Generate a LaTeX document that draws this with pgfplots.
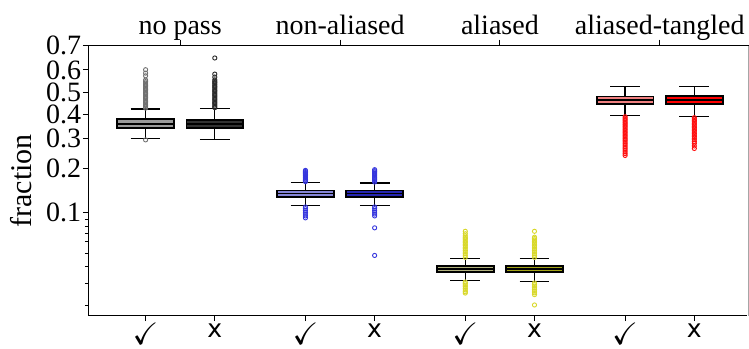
\documentclass[border=0pt]{standalone}
\usepackage{fontspec}
\setmainfont{Liberation Serif}
\newfontfamily\djv{DejaVu Sans}
\usepackage{amssymb}
\usepackage{pgfplots}
\pgfplotsset{compat=1.18}

\definecolor{boxA}{HTML}{9A9A9A}
\definecolor{boxB}{HTML}{323232}
\definecolor{boxC}{HTML}{8484D6}
\definecolor{boxD}{HTML}{2626B0}
\definecolor{boxE}{HTML}{B2B27E}
\definecolor{boxF}{HTML}{A4A418}
\definecolor{boxG}{HTML}{F08080}
\definecolor{boxH}{HTML}{FF0000}
\definecolor{outA}{HTML}{707070}
\definecolor{outB}{HTML}{2A2A2A}
\definecolor{outC}{HTML}{3535DD}
\definecolor{outE}{HTML}{D8D82A}
\definecolor{outG}{HTML}{FF1010}

\newcommand{\bigf}{\fontsize{28}{32}\selectfont}

\pgfplotsset{
  outl/.style={only marks, mark=o, mark size=2.1pt, mark options={draw=#1, line width=0.9pt}},
}
% box: position, lower whisker, lower quartile, median, upper quartile, upper whisker, fill
\newcommand{\bx}[7]{%
  \pgfmathsetmacro\bl{#1-0.41}\pgfmathsetmacro\br{#1+0.41}%
  \pgfmathsetmacro\wl{#1-0.215}\pgfmathsetmacro\wr{#1+0.215}%
  \addplot[black, line width=1.3pt] coordinates {(#1,#2) (#1,#3)};
  \addplot[black, line width=1.3pt] coordinates {(#1,#5) (#1,#6)};
  \addplot[black, line width=1.3pt] coordinates {(\wl,#2) (\wr,#2)};
  \addplot[black, line width=1.3pt] coordinates {(\wl,#6) (\wr,#6)};
  \addplot[draw=black, fill=#7, line width=1.7pt] coordinates {(\bl,#3) (\br,#3) (\br,#5) (\bl,#5)} -- cycle;
  \addplot[black, line width=1.6pt] coordinates {(\bl,#4) (\br,#4)};
}

\begin{document}
\begin{tikzpicture}
\begin{axis}[
  name=main,
  width=660pt, height=270pt, scale only axis,
  xmin=-0.828, xmax=8.71,
  ymin=0.01645, ymax=0.7,
  y coord trafo/.code={\pgfmathparse{ln(#1/(1-#1))}},
  y coord inv trafo/.code={\pgfmathparse{1/(1+exp(-#1))}},
  ytick={0.1,0.2,0.3,0.4,0.5,0.6,0.7},
  yticklabels={0.1,0.2,0.3,0.4,0.5,0.6,0.7},
  minor ytick={0.02,0.03,0.04,0.05,0.06,0.07,0.08,0.09},
  xtick={0,1,2.31,3.31,4.62,5.62,6.93,7.93},
  xticklabels={{\fontsize{31}{34}\selectfont\checkmark},{\djv\fontsize{25}{30}\selectfont x},{\fontsize{31}{34}\selectfont\checkmark},{\djv\fontsize{25}{30}\selectfont x},{\fontsize{31}{34}\selectfont\checkmark},{\djv\fontsize{25}{30}\selectfont x},{\fontsize{31}{34}\selectfont\checkmark},{\djv\fontsize{25}{30}\selectfont x}},
  xtick pos=bottom, ytick pos=left,
  tick align=outside,
  major tick length=5.5pt, minor tick length=3.3pt,
  tick style={black, line width=1pt},
  axis line style={black, line width=1.3pt},
  ylabel={\fontsize{30}{34}\selectfont fraction},
  ylabel style={font=\fontsize{30}{34}\selectfont},
  ylabel shift=9pt,
  yticklabel style={font=\bigf, inner sep=1.5pt},
  xticklabel style={inner sep=1pt, anchor=north, yshift=-1pt},
  /pgf/number format/assume math mode=true,
]
% no pass
\bx{0}{0.2996}{0.3434}{0.3603}{0.379}{0.4243}{boxA}
\addplot[outl=outA] coordinates {(0,0.428) (0,0.434) (0,0.440) (0,0.446) (0,0.452) (0,0.458) (0,0.464) (0,0.470) (0,0.476) (0,0.482) (0,0.488) (0,0.494) (0,0.500) (0,0.506) (0,0.512) (0,0.518) (0,0.524) (0,0.530) (0,0.536) (0,0.542) (0,0.548) (0,0.555) (0,0.574) (0,0.586) (0,0.601) (0,0.2955)};
\bx{1}{0.2973}{0.3423}{0.3603}{0.3773}{0.4256}{boxB}
\addplot[outl=outB] coordinates {(1,0.430) (1,0.436) (1,0.442) (1,0.448) (1,0.454) (1,0.460) (1,0.466) (1,0.472) (1,0.478) (1,0.484) (1,0.490) (1,0.496) (1,0.502) (1,0.508) (1,0.514) (1,0.520) (1,0.526) (1,0.532) (1,0.538) (1,0.544) (1,0.550) (1,0.556) (1,0.5685) (1,0.5818) (1,0.651)};
% non-aliased
\bx{2.31}{0.1122}{0.1297}{0.1366}{0.1432}{0.1614}{boxC}
\addplot[outl=outC] coordinates {(2.31,0.164) (2.31,0.167) (2.31,0.170) (2.31,0.173) (2.31,0.176) (2.31,0.179) (2.31,0.182) (2.31,0.185) (2.31,0.188) (2.31,0.191) (2.31,0.194) (2.31,0.110) (2.31,0.107) (2.31,0.104) (2.31,0.101) (2.31,0.098) (2.31,0.095) (2.31,0.092)};
\bx{3.31}{0.1122}{0.1288}{0.1360}{0.1432}{0.1604}{boxD}
\addplot[outl=outC] coordinates {(3.31,0.163) (3.31,0.166) (3.31,0.169) (3.31,0.172) (3.31,0.175) (3.31,0.178) (3.31,0.181) (3.31,0.184) (3.31,0.187) (3.31,0.190) (3.31,0.193) (3.31,0.196) (3.31,0.110) (3.31,0.107) (3.31,0.104) (3.31,0.101) (3.31,0.098) (3.31,0.095) (3.31,0.0779) (3.31,0.0486)};
% aliased
\bx{4.62}{0.0312}{0.0363}{0.0383}{0.0404}{0.0459}{boxE}
\addplot[outl=outE] coordinates {(4.62,0.047) (4.62,0.0485) (4.62,0.050) (4.62,0.0515) (4.62,0.053) (4.62,0.0545) (4.62,0.056) (4.62,0.0575) (4.62,0.059) (4.62,0.0605) (4.62,0.062) (4.62,0.0635) (4.62,0.065) (4.62,0.0665) (4.62,0.068) (4.62,0.0705) (4.62,0.0735) (4.62,0.0305) (4.62,0.0297) (4.62,0.0289) (4.62,0.0281) (4.62,0.0273) (4.62,0.0265) (4.62,0.0257) (4.62,0.0251)};
\bx{5.62}{0.0308}{0.0363}{0.0383}{0.0404}{0.0459}{boxF}
\addplot[outl=outE] coordinates {(5.62,0.047) (5.62,0.0485) (5.62,0.050) (5.62,0.0515) (5.62,0.053) (5.62,0.0545) (5.62,0.056) (5.62,0.0575) (5.62,0.059) (5.62,0.0605) (5.62,0.062) (5.62,0.0635) (5.62,0.065) (5.62,0.0665) (5.62,0.0735) (5.62,0.0300) (5.62,0.0292) (5.62,0.0284) (5.62,0.0276) (5.62,0.0268) (5.62,0.0260) (5.62,0.0252) (5.62,0.0244) (5.62,0.0203)};
% aliased-tangled
\bx{6.93}{0.3946}{0.447}{0.4636}{0.480}{0.5258}{boxG}
\addplot[outl=outG] coordinates {(6.93,0.390) (6.93,0.384) (6.93,0.378) (6.93,0.372) (6.93,0.366) (6.93,0.360) (6.93,0.354) (6.93,0.348) (6.93,0.342) (6.93,0.336) (6.93,0.330) (6.93,0.324) (6.93,0.318) (6.93,0.312) (6.93,0.306) (6.93,0.300) (6.93,0.294) (6.93,0.288) (6.93,0.282) (6.93,0.276) (6.93,0.270) (6.93,0.264) (6.93,0.258) (6.93,0.252) (6.93,0.246) (6.93,0.240)};
\bx{7.93}{0.3903}{0.4455}{0.4636}{0.482}{0.5258}{boxH}
\addplot[outl=outG] coordinates {(7.93,0.386) (7.93,0.380) (7.93,0.374) (7.93,0.368) (7.93,0.362) (7.93,0.356) (7.93,0.350) (7.93,0.344) (7.93,0.338) (7.93,0.332) (7.93,0.326) (7.93,0.320) (7.93,0.314) (7.93,0.308) (7.93,0.302) (7.93,0.296) (7.93,0.289) (7.93,0.2823) (7.93,0.273) (7.93,0.264)};
\end{axis}
\begin{axis}[
  at={(main.south west)}, anchor=south west,
  width=660pt, height=270pt, scale only axis,
  xmin=-0.828, xmax=8.71, ymin=0, ymax=1,
  axis x line*=top, hide y axis,
  xtick={0.5,2.81,5.12,7.43},
  xticklabels={no pass,non-aliased,aliased,aliased-tangled},
  tick align=outside, major tick length=6pt,
  tick style={black, line width=1pt},
  axis line style={black, line width=1.3pt},
  xticklabel style={font=\bigf, text height=0.7em, text depth=0.25em, inner sep=1pt, yshift=1pt},
]
\addplot[draw=none] coordinates {(0,0.5)};
\end{axis}
\draw[white, line width=2pt] (main.south east) -- (main.north east);
\draw[black!35, line width=1pt] (main.south east) -- (main.north east);
\pgfresetboundingbox
\path ([shift={(-88.3pt,-32.3pt)}]main.south west) rectangle ([shift={(0.7pt,45.7pt)}]main.north east);
\end{tikzpicture}
\end{document}
